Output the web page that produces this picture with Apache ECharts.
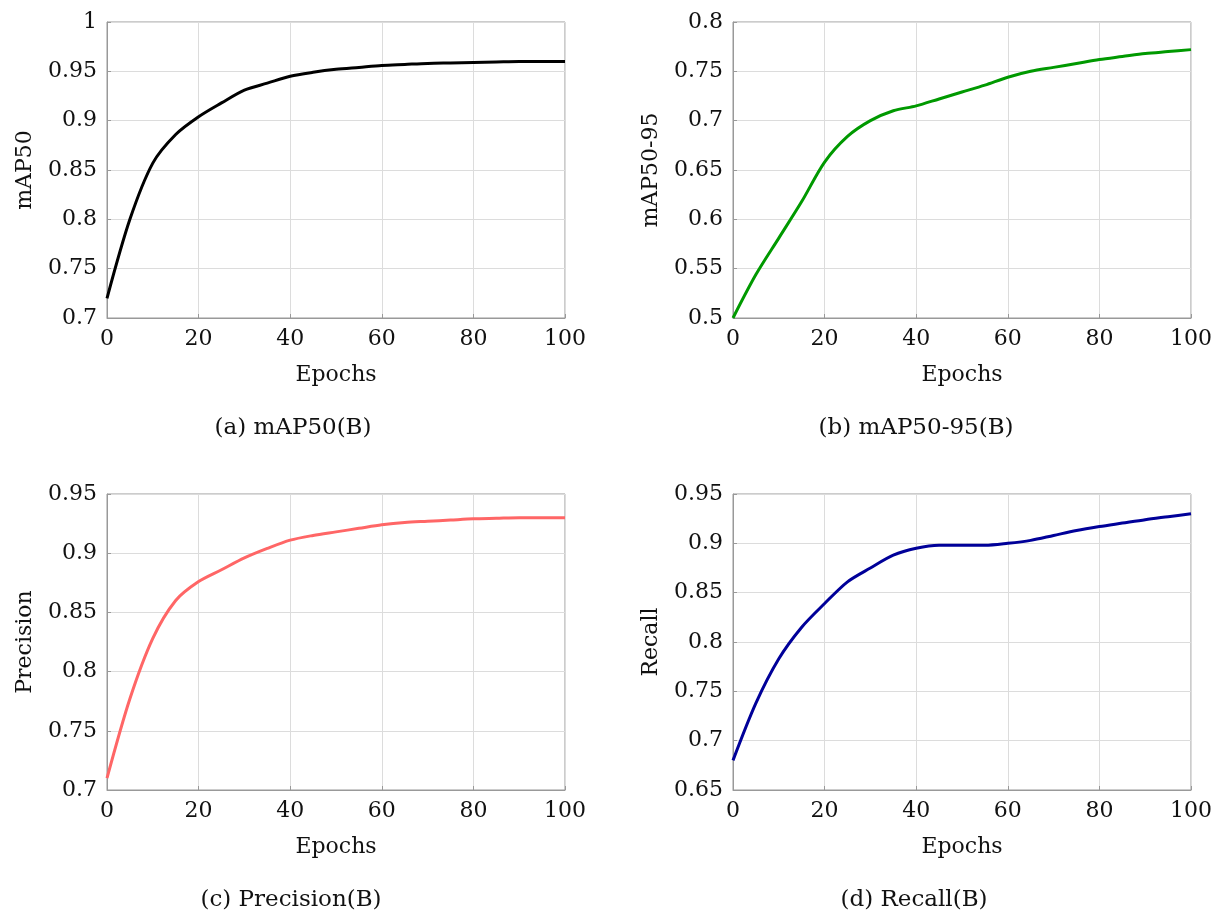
<!DOCTYPE html>
<html>
<head>
<meta charset="utf-8">
<script src="https://cdn.jsdelivr.net/npm/echarts@6/dist/echarts.min.js"></script>
<style>
  html, body { margin: 0; padding: 0; background: #fff; }
  #main { width: 1215px; height: 910px; }
</style>
</head>
<body>
<div id="main"></div>
<script>
// epochs sampled every 5
const epochs = [0, 5, 10, 15, 20, 25, 30, 35, 40, 45, 50, 55, 60, 65, 70, 75, 80, 85, 90, 95, 100];

const map50 = [0.72, 0.80, 0.857, 0.886, 0.904, 0.918, 0.931, 0.938, 0.945, 0.949, 0.952, 0.954, 0.956, 0.957, 0.958, 0.9585, 0.959, 0.9595, 0.96, 0.96, 0.96];
const map5095 = [0.50, 0.544, 0.581, 0.618, 0.658, 0.684, 0.70, 0.71, 0.715, 0.722, 0.729, 0.736, 0.744, 0.75, 0.754, 0.758, 0.762, 0.765, 0.768, 0.770, 0.772];
const precision = [0.71, 0.777, 0.828, 0.860, 0.876, 0.886, 0.896, 0.904, 0.911, 0.915, 0.918, 0.921, 0.924, 0.926, 0.927, 0.928, 0.929, 0.9295, 0.93, 0.93, 0.93];
const recall = [0.68, 0.738, 0.783, 0.815, 0.839, 0.861, 0.875, 0.888, 0.895, 0.898, 0.898, 0.898, 0.90, 0.903, 0.908, 0.913, 0.917, 0.9205, 0.924, 0.927, 0.93];

const xTicks = { min: 0, max: 100, interval: 20 };

const panels = [
  { name: "mAP50", caption: "(a) mAP50(B)", data: map50, color: "#000000", min: 0.7, max: 1.0,
    left: 107, top: 22, capX: 293, capY: 428 },
  { name: "mAP50-95", caption: "(b) mAP50-95(B)", data: map5095, color: "#009900", min: 0.5, max: 0.8,
    left: 733, top: 22, capX: 916, capY: 428 },
  { name: "Precision", caption: "(c) Precision(B)", data: precision, color: "#ff6666", min: 0.7, max: 0.95,
    left: 107, top: 494, capX: 291, capY: 900 },
  { name: "Recall", caption: "(d) Recall(B)", data: recall, color: "#000099", min: 0.65, max: 0.95,
    left: 733, top: 494, capX: 914, capY: 900 }
];

const font = "DejaVu Serif";
const textColor = "#111";

const chart = echarts.init(document.getElementById("main"));

const option = {
  animation: false,
  grid: panels.map(p => ({
    left: p.left, top: p.top, width: 458, height: 296,
    show: true, borderColor: "#999", borderWidth: 1, backgroundColor: "transparent"
  })),
  xAxis: panels.map((p, i) => ({
    type: "value", gridIndex: i,
    min: xTicks.min, max: xTicks.max, interval: xTicks.interval,
    name: "Epochs", nameLocation: "middle", nameGap: 46,
    nameTextStyle: { fontFamily: font, fontSize: 22, color: textColor },
    axisLine: { show: true, lineStyle: { color: "#999", width: 1 } },
    axisTick: { show: true, inside: true, length: 4, lineStyle: { color: "#999" } },
    axisLabel: { fontFamily: font, fontSize: 22, color: textColor, margin: 10 },
    splitLine: { show: true, lineStyle: { color: "#dcdcdc", width: 1 } }
  })),
  yAxis: panels.map((p, i) => ({
    type: "value", gridIndex: i,
    min: p.min, max: p.max, interval: 0.05,
    name: p.name, nameLocation: "middle", nameGap: 71, nameRotate: 90,
    nameTextStyle: { fontFamily: font, fontSize: 22, color: textColor },
    axisLine: { show: true, lineStyle: { color: "#999", width: 1 } },
    axisTick: { show: true, inside: true, length: 4, lineStyle: { color: "#999" } },
    axisLabel: { fontFamily: font, fontSize: 22, color: textColor, margin: 10,
      formatter: v => String(parseFloat(v.toFixed(2))) },
    splitLine: { show: true, lineStyle: { color: "#dcdcdc", width: 1 } }
  })),
  series: panels.map((p, i) => ({
    type: "line", xAxisIndex: i, yAxisIndex: i,
    data: epochs.map((e, k) => [e, p.data[k]]),
    smooth: 0.3, showSymbol: false,
    lineStyle: { color: p.color, width: 3 }
  })),
  graphic: panels.map(p => ({
    type: "text", x: p.capX, y: p.capY,
    style: { text: p.caption, fontFamily: font, fontSize: 23, fill: textColor,
      textAlign: "center", textVerticalAlign: "middle" }
  }))
};

chart.setOption(option);
</script>
</body>
</html>
